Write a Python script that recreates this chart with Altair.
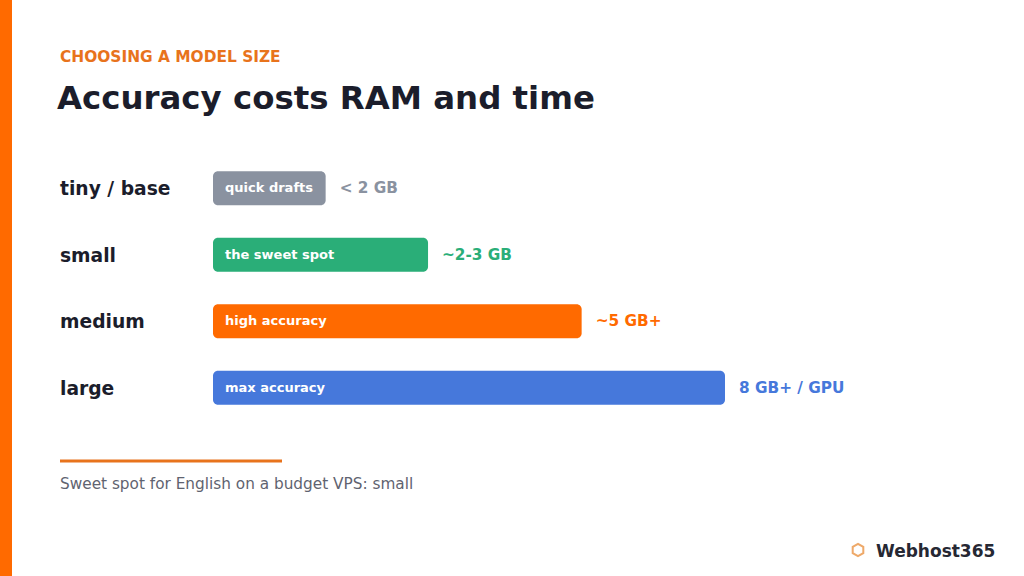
import altair as alt
import pandas as pd

# ---- data ----
models = ["tiny / base", "small", "medium", "large"]
relative_cost = [22, 42, 72, 100]          # relative RAM/time cost (bar length)
bar_labels = ["quick drafts", "the sweet spot", "high accuracy", "max accuracy"]
ram_labels = ["< 2 GB", "~2-3 GB", "~5 GB+", "8 GB+ / GPU"]
bar_colors = ["#8a92a0", "#2aae78", "#ff6a00", "#4678db"]
text_colors = ["#8a92a0", "#2a9e70", "#e8731c", "#4a72cc"]

kicker = "CHOOSING A MODEL SIZE"
title = "Accuracy costs RAM and time"
footnote = "Sweet spot for English on a budget VPS: small"
brand = "Webhost365"

df = pd.DataFrame({
    "model": models,
    "cost": relative_cost,
    "bar_label": bar_labels,
    "ram": ram_labels,
    "zero": [0] * len(models),
})

FONT = "DejaVu Sans"
W, H = 1024, 576

x_scale = alt.Scale(domain=[0, 100], range=[213, 725])
y_scale = alt.Scale(domain=models, range=[155, 421], paddingInner=0.49, paddingOuter=0.245)
bar_color = alt.Color("model:N", scale=alt.Scale(domain=models, range=bar_colors), legend=None)
txt_color = alt.Color("model:N", scale=alt.Scale(domain=models, range=text_colors), legend=None)
Y = alt.Y("model:N", scale=y_scale, axis=None, sort=models)

base = alt.Chart(df)

bars = base.mark_bar(cornerRadius=5).encode(
    x=alt.X("cost:Q", scale=x_scale, axis=None).stack(None),
    x2="zero:Q",
    y=Y,
    color=bar_color,
)

inner = base.mark_text(align="left", baseline="middle", dx=12, font=FONT,
                       fontWeight="bold", fontSize=13, color="white").encode(
    x=alt.X("zero:Q", scale=x_scale, axis=None),
    y=Y,
    text="bar_label:N",
)

ram = base.mark_text(align="left", baseline="middle", dx=14, font=FONT,
                     fontWeight="bold", fontSize=15.3).encode(
    x=alt.X("cost:Q", scale=x_scale, axis=None),
    y=Y,
    text="ram:N",
    color=txt_color,
)

cats = base.mark_text(align="left", baseline="middle", font=FONT,
                      fontWeight="bold", fontSize=18.7, color="#1b1d2b", dy=1).encode(
    x=alt.value(60),
    y=Y,
    text="model:N",
)

one = pd.DataFrame({"k": [0]})
stripe = alt.Chart(one).mark_rect(color="#ff6a00").encode(
    x=alt.value(0), x2=alt.value(12), y=alt.value(0), y2=alt.value(H))

kicker_t = alt.Chart(one).mark_text(align="left", baseline="middle", font=FONT,
                                    fontWeight="bold", fontSize=15.4, color="#e8731c",
                                    text=kicker).encode(x=alt.value(60), y=alt.value(57))
title_t = alt.Chart(one).mark_text(align="left", baseline="alphabetic", font=FONT,
                                   fontWeight="bold", fontSize=32.4, color="#1b1d2b",
                                   text=title).encode(x=alt.value(57), y=alt.value(109))
rule = alt.Chart(one).mark_rule(color="#e8731c", strokeWidth=3).encode(
    x=alt.value(60), x2=alt.value(282), y=alt.value(461))
foot_t = alt.Chart(one).mark_text(align="left", baseline="middle", font=FONT,
                                  fontSize=15.3, color="#5f6370",
                                  text=footnote).encode(x=alt.value(60), y=alt.value(484))
hexagon = "M0,-1L0.866,-0.5L0.866,0.5L0,1L-0.866,0.5L-0.866,-0.5Z"
logo = alt.Chart(one).mark_point(shape=hexagon, filled=False, stroke="#e8852a",
                                 strokeWidth=2, size=150).encode(x=alt.value(858), y=alt.value(550))
brand_t = alt.Chart(one).mark_text(align="left", baseline="middle", font=FONT,
                                   fontWeight="bold", fontSize=17, color="#262833",
                                   text=brand).encode(x=alt.value(876), y=alt.value(552))

chart = alt.layer(stripe, kicker_t, title_t, bars, inner, ram, cats, rule, foot_t, logo, brand_t).properties(
    width=W, height=H,
    autosize=alt.AutoSizeParams(type="none"),
    padding=0,
    background="white",
).configure_view(stroke=None)

chart.save("out.html", embed_options={"renderer": "svg", "actions": False})
